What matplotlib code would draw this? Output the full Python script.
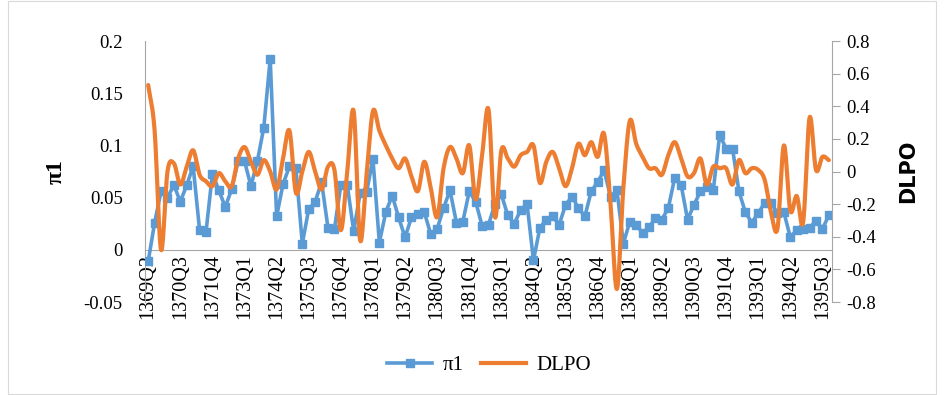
import numpy as np
import matplotlib.pyplot as plt
from matplotlib.lines import Line2D
from matplotlib.patches import Rectangle

# ------------------------------------------------------------
# DATA (quarterly, 1369Q2 .. 1395Q4)
# ------------------------------------------------------------
start_year, start_q, n_obs = 1369, 2, 107

pi1 = [-0.011, 0.026, 0.056, 0.050, 0.062, 0.046, 0.062, 0.080, 0.019, 0.017,
       0.073, 0.057, 0.041, 0.058, 0.085, 0.085, 0.061, 0.085, 0.117, 0.183,
       0.032, 0.063, 0.080, 0.078, 0.006, 0.039, 0.046, 0.065, 0.021, 0.020,
       0.062, 0.062, 0.018, 0.054, 0.055, 0.087, 0.007, 0.036, 0.052, 0.031,
       0.012, 0.031, 0.034, 0.036, 0.015, 0.020, 0.040, 0.057, 0.026, 0.027,
       0.056, 0.046, 0.023, 0.024, 0.044, 0.053, 0.033, 0.025, 0.038, 0.044,
       -0.010, 0.021, 0.029, 0.032, 0.024, 0.043, 0.051, 0.040, 0.032, 0.056,
       0.065, 0.076, 0.051, 0.057, 0.006, 0.027, 0.024, 0.016, 0.022, 0.030,
       0.029, 0.040, 0.069, 0.062, 0.029, 0.043, 0.056, 0.060, 0.057, 0.110,
       0.097, 0.097, 0.056, 0.036, 0.026, 0.035, 0.045, 0.045, 0.035, 0.036,
       0.012, 0.019, 0.020, 0.021, 0.028, 0.020, 0.033]

dlpo = [0.53, 0.25, -0.48, 0.00, 0.05, -0.08, 0.03, 0.13, -0.02, -0.06,
        -0.09, -0.01, -0.06, -0.09, 0.08, 0.15, 0.06, -0.02, 0.07, 0.00,
        -0.11, 0.08, 0.25, -0.13, 0.00, 0.12, 0.00, -0.11, 0.03, 0.01,
        -0.36, 0.00, 0.37, -0.42, -0.02, 0.37, 0.25, 0.16, 0.08, 0.02,
        0.08, -0.03, -0.12, 0.06, -0.10, -0.28, 0.02, 0.15, 0.08, -0.01,
        0.16, -0.17, 0.10, 0.38, -0.28, 0.13, 0.08, 0.03, 0.10, 0.12,
        0.16, -0.07, 0.06, 0.12, 0.02, -0.09, 0.02, 0.17, 0.10, 0.18,
        0.09, 0.23, -0.20, -0.72, -0.10, 0.31, 0.17, 0.09, 0.02, 0.02,
        -0.02, 0.10, 0.18, 0.08, -0.03, -0.01, 0.08, -0.08, 0.03, 0.02,
        0.02, -0.08, 0.07, -0.01, 0.02, 0.01, -0.05, -0.25, -0.35, 0.16,
        -0.24, -0.15, -0.31, 0.33, 0.01, 0.09, 0.07]

labels = []
y, q = start_year, start_q
for i in range(n_obs):
    labels.append(f"{y}Q{q}")
    q += 1
    if q > 4:
        q, y = 1, y + 1

blue = '#5B9BD5'
orange = '#ED7D31'
serif = 'Liberation Serif'


def smooth(xs, ys, n=16):
    # Catmull-Rom curve through the points (like Excel "smoothed line")
    xs = np.asarray(xs, float)
    ys = np.asarray(ys, float)
    px = np.concatenate([[2 * xs[0] - xs[1]], xs, [2 * xs[-1] - xs[-2]]])
    py = np.concatenate([[2 * ys[0] - ys[1]], ys, [2 * ys[-1] - ys[-2]]])
    t = np.linspace(0, 1, n, endpoint=False)
    outx, outy = [], []
    for k in range(1, len(px) - 2):
        for p, o in ((px, outx), (py, outy)):
            p0, p1, p2, p3 = p[k - 1], p[k], p[k + 1], p[k + 2]
            o.extend(0.5 * (2 * p1 + (-p0 + p2) * t
                            + (2 * p0 - 5 * p1 + 4 * p2 - p3) * t**2
                            + (-p0 + 3 * p1 - 3 * p2 + p3) * t**3))
    outx.append(xs[-1])
    outy.append(ys[-1])
    return np.array(outx), np.array(outy)


# ============================================================
# FIGURE
# ============================================================
fig = plt.figure(figsize=(9.44, 3.95), dpi=100)
fig.patches.append(Rectangle((0.008, 0.003), 0.984, 0.994, transform=fig.transFigure,
                             fill=False, edgecolor='#d9d9d9', lw=0.8))

ax = fig.add_axes([0.1536, 0.2354, 0.7278, 0.6608])
x = np.arange(n_obs)

ax.plot(x, pi1, color=blue, lw=2.6, marker='s', markersize=5.5,
        markeredgecolor=blue, zorder=3)
ax.set_xlim(-0.5, n_obs - 0.5)
ax.set_ylim(-0.05, 0.2)
ax.set_yticks([-0.05, 0, 0.05, 0.1, 0.15, 0.2])
ax.set_yticklabels(['-0.05', '0', '0.05', '0.1', '0.15', '0.2'])

ax.spines['top'].set_visible(False)
ax.spines['right'].set_visible(False)
ax.spines['bottom'].set_position(('data', 0))
ax.spines['bottom'].set_color('#a6a6a6')
ax.spines['left'].set_color('#a6a6a6')
ax.tick_params(axis='y', length=0, labelsize=13.5, pad=16)
ax.tick_params(axis='x', length=0, labelsize=14.5, pad=3)
ax.set_xticks(x[::5])
ax.set_xticklabels(labels[::5], rotation=90)
for lab in ax.get_xticklabels() + ax.get_yticklabels():
    lab.set_fontfamily(serif)

ax.set_ylabel('π1', fontsize=17, fontweight='bold', family=serif, labelpad=12)

ax2 = ax.twinx()
sx, sy = smooth(x, dlpo)
ax2.plot(sx, sy, color=orange, lw=3.0, solid_capstyle='round')
ax2.set_ylim(-0.8, 0.8)
ax2.set_yticks(np.arange(-0.8, 0.81, 0.2))
ax2.set_yticklabels(['-0.8', '-0.6', '-0.4', '-0.2', '0', '0.2', '0.4', '0.6', '0.8'])
for s in ('top', 'left', 'bottom'):
    ax2.spines[s].set_visible(False)
ax2.spines['right'].set_color('#a6a6a6')
ax2.tick_params(axis='y', length=6, color='#a6a6a6', labelsize=13.5, pad=4)
for lab in ax2.get_yticklabels():
    lab.set_fontfamily(serif)
ax2.set_ylabel('DLPO', fontsize=15, fontweight='bold', family='DejaVu Sans', labelpad=16)

handles = [Line2D([], [], color=blue, lw=2.6, marker='s', markersize=5.5),
           Line2D([], [], color=orange, lw=3.0)]
fig.legend(handles, ['π1', 'DLPO'], loc='center', bbox_to_anchor=(0.518, 0.075),
           ncol=2, frameon=False, prop={'family': serif, 'size': 15},
           handlelength=2.2, handletextpad=0.5, columnspacing=0.8)

fig.savefig('out.png', dpi=100)
